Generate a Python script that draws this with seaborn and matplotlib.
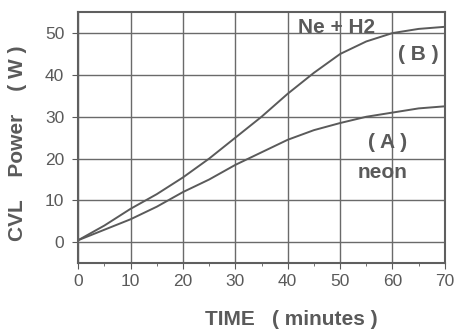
import pandas as pd
import numpy as np
import seaborn as sns
import matplotlib.pyplot as plt

# values
time_min = [0, 5, 10, 15, 20, 25, 30, 35, 40, 45, 50, 55, 60, 65, 70]
power_neon = [0.5, 3, 5.5, 8.5, 12, 15, 18.5, 21.5, 24.5, 26.8, 28.5, 30, 31, 32, 32.5]
power_ne_h2 = [0.5, 4, 8, 11.5, 15.5, 20, 25, 30, 35.5, 40.5, 45, 48, 50, 51, 51.5]

df = pd.DataFrame({
    "time": time_min * 2,
    "power": power_neon + power_ne_h2,
    "gas": ["neon"] * len(time_min) + ["Ne + H2"] * len(time_min),
})

sns.set_style("white")
plt.rcParams["font.family"] = ["Liberation Sans", "DejaVu Sans"]
grey = "#5a5a5a"

fig = plt.figure(figsize=(4.6, 3.29), dpi=100)
ax = fig.add_axes([0.17, 0.2, 0.797, 0.763])
sns.lineplot(data=df, x="time", y="power", units="gas", estimator=None,
             color=grey, linewidth=1.4, ax=ax, legend=False)

ax.set_xlim(0, 70)
ax.set_ylim(-5, 55)
ax.set_xticks(range(0, 71, 10))
ax.set_xticks(range(5, 70, 10), minor=True)
ax.set_yticks(range(0, 51, 10))
ax.grid(True, which="major", color="#6a6a6a", linewidth=1.0)
for s in ax.spines.values():
    s.set_color("#5f5f5f")
    s.set_linewidth(1.5)
ax.tick_params(axis="both", which="major", length=4, color=grey, labelsize=12.5,
               labelcolor=grey, direction="out")
ax.tick_params(axis="y", which="major", pad=6)
ax.tick_params(axis="x", which="minor", length=2.5, color=grey, bottom=True)
ax.tick_params(left=True, bottom=True)

ax.set_xlabel("TIME   ( minutes )", fontsize=15, fontweight="bold", color=grey)
ax.set_ylabel("CVL    Power    ( W )", fontsize=15, fontweight="bold", color=grey)
ax.xaxis.set_label_coords(0.58, -0.185)
ax.yaxis.set_label_coords(-0.139, 0.476)

tkw = dict(fontsize=15, fontweight="bold", color=grey, ha="center", va="center")
ax.text(49.4, 51.4, "Ne + H2", **tkw)
ax.text(64.9, 45, "( B )", **tkw)
ax.text(59, 23.8, "( A )", **tkw)
ax.text(58.2, 16.6, "neon", **tkw)

fig.savefig("out.png", dpi=100)
